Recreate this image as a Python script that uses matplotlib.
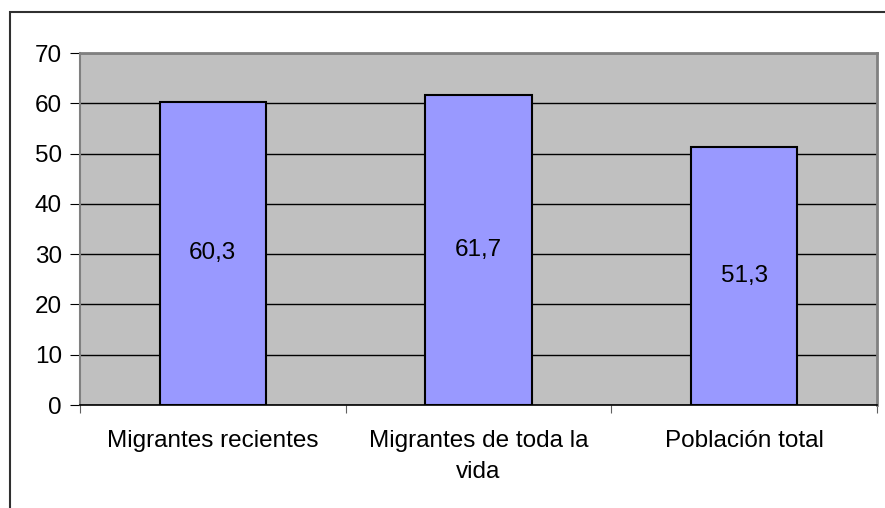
import matplotlib
matplotlib.use("Agg")
import matplotlib.pyplot as plt
from matplotlib.patches import Rectangle

categories = ["Migrantes recientes", "Migrantes de toda la\nvida", "Población total"]
values = [60.3, 61.7, 51.3]
labels = ["60,3", "61,7", "51,3"]
yticks = [0, 10, 20, 30, 40, 50, 60, 70]

plt.rcParams["font.family"] = ["Liberation Sans", "DejaVu Sans"]
FS = 17.5

W, H = 885, 508
fig = plt.figure(figsize=(W / 100, H / 100), dpi=100)

# outer chart border (Excel style)
fig.add_artist(Rectangle((10 / W, -0.1), 1.0, 1 - 12 / H + 0.1, transform=fig.transFigure,
                         fill=False, edgecolor="#303030", lw=1.5))

ax = fig.add_axes([80 / W, 1 - 405 / H, (877 - 80) / W, (405 - 53) / H])
ax.set_facecolor("#C0C0C0")

x = list(range(len(categories)))
ax.bar(x, values, width=0.4, color="#9999FF", edgecolor="black", lw=1.5, zorder=3)
for xi, v, lab in zip(x, values, labels):
    ax.text(xi, v / 2, lab, ha="center", va="center", fontsize=FS, zorder=4)

ax.set_xlim(-0.5, len(categories) - 0.5)
ax.set_ylim(0, 70)
ax.set_yticks(yticks)
ax.set_yticklabels([str(t) for t in yticks], fontsize=FS)
ax.yaxis.grid(True, color="black", lw=1.0, zorder=1)
ax.set_axisbelow(True)

ax.set_xticks([-0.5, 0.5, 1.5, 2.5])
ax.set_xticklabels([])
ax.set_xticks(x, minor=True)
ax.set_xticklabels(categories, minor=True, fontsize=FS, linespacing=1.5)
ax.tick_params(axis="x", which="minor", length=0, pad=18)
ax.tick_params(axis="x", which="major", length=6, direction="out", color="#606060")
ax.tick_params(axis="y", length=7, direction="out", color="black", pad=6)

for s in ["top", "right"]:
    ax.spines[s].set_color("#808080")
    ax.spines[s].set_linewidth(2)
ax.spines["left"].set_color("#808080")
ax.spines["left"].set_linewidth(1.5)
ax.spines["bottom"].set_color("black")
ax.spines["bottom"].set_linewidth(1.2)

fig.savefig("out.png", dpi=100)
